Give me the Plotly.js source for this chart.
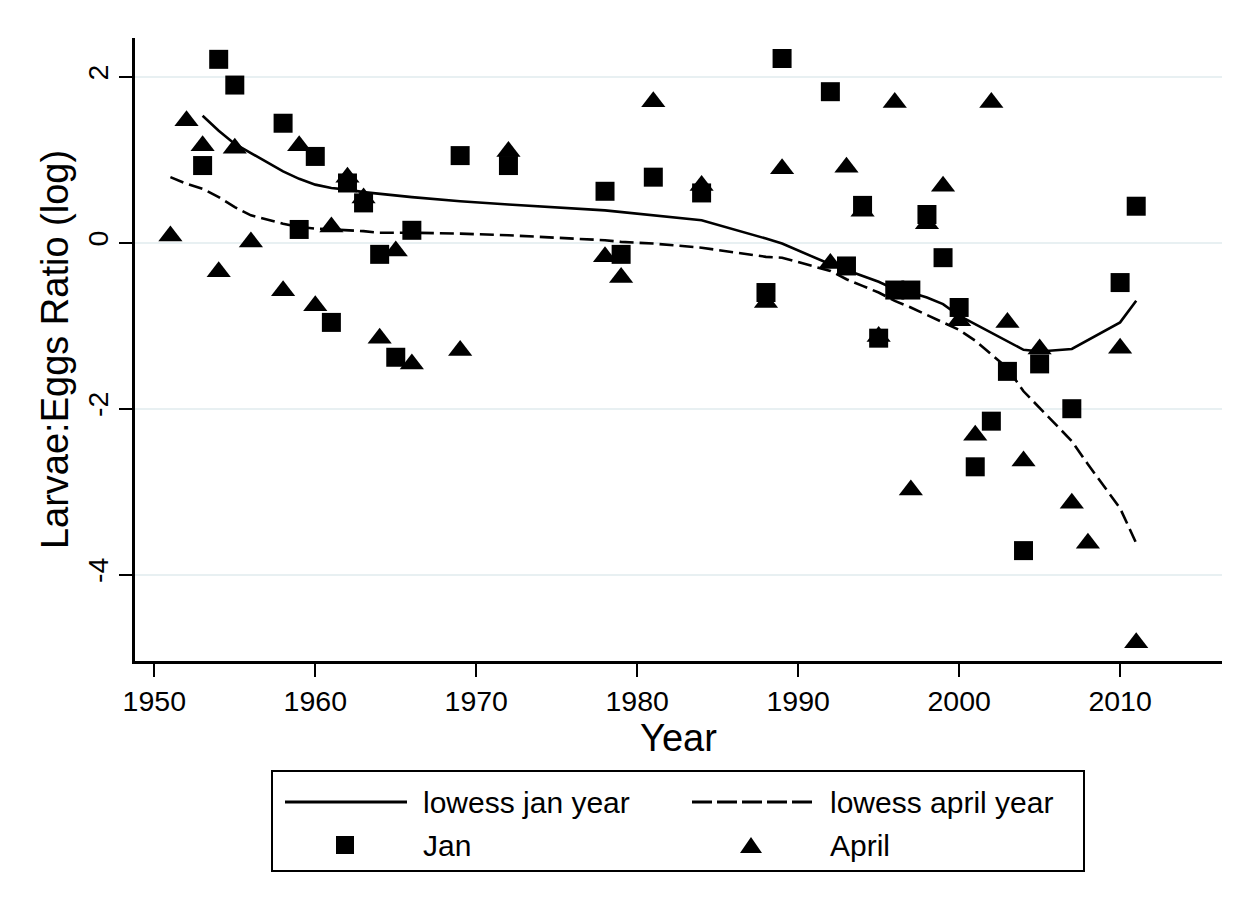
<!DOCTYPE html>
<html>
<head>
<meta charset="utf-8">
<script src="https://cdn.plot.ly/plotly-3.0.1.min.js"></script>
<style>
  html, body { margin: 0; padding: 0; background: #ffffff; }
  #chart { width: 1253px; height: 911px; }
</style>
</head>
<body>
<div id="chart"></div>
<script>
// January survey: larvae-to-eggs ratio (log scale) by year
const janYears = [1953, 1954, 1955, 1958, 1959, 1960, 1961, 1962, 1963, 1964, 1965, 1966,
  1969, 1972, 1978, 1979, 1981, 1984, 1988, 1989, 1992, 1993, 1994, 1995, 1996, 1997,
  1998, 1999, 2000, 2001, 2002, 2003, 2004, 2005, 2007, 2010, 2011];
const janRatio = [0.93, 2.21, 1.90, 1.44, 0.16, 1.04, -0.96, 0.72, 0.48, -0.14, -1.38, 0.15,
  1.05, 0.93, 0.62, -0.14, 0.79, 0.60, -0.60, 2.22, 1.82, -0.28, 0.45, -1.15, -0.57, -0.57,
  0.34, -0.18, -0.78, -2.70, -2.15, -1.55, -3.71, -1.46, -2.00, -0.48, 0.44];
// Lowess smooth of the January series, evaluated at each January year
const janLowess = [1.53, 1.35, 1.19, 0.86, 0.77, 0.70, 0.66, 0.64, 0.61, 0.59, 0.57, 0.55,
  0.50, 0.46, 0.39, 0.37, 0.33, 0.27, 0.05, -0.01, -0.26, -0.33, -0.40, -0.47, -0.56, -0.60,
  -0.66, -0.74, -0.88, -0.98, -1.09, -1.18, -1.29, -1.31, -1.28, -0.96, -0.70];

// April survey
const aprYears = [1951, 1952, 1953, 1954, 1955, 1956, 1958, 1959, 1960, 1961, 1962, 1963,
  1964, 1965, 1966, 1969, 1972, 1978, 1979, 1981, 1984, 1988, 1989, 1992, 1993, 1994, 1995,
  1996, 1997, 1998, 1999, 2000, 2001, 2002, 2003, 2004, 2005, 2007, 2008, 2010, 2011];
const aprRatio = [0.08, 1.47, 1.17, -0.35, 1.14, 0.01, -0.58, 1.17, -0.76, 0.19, 0.79, 0.54,
  -1.15, -0.10, -1.46, -1.30, 1.10, -0.17, -0.42, 1.70, 0.69, -0.72, 0.89, -0.25, 0.91, 0.38,
  -1.13, 1.69, -2.98, 0.23, 0.68, -0.94, -2.32, 1.69, -0.96, -2.63, -1.28, -3.14, -3.62,
  -1.27, -4.82];
// Lowess smooth of the April series, evaluated at each April year
const aprLowess = [0.79, 0.71, 0.65, 0.55, 0.43, 0.33, 0.23, 0.19, 0.17, 0.16, 0.15, 0.14,
  0.12, 0.12, 0.12, 0.11, 0.09, 0.03, 0.01, -0.01, -0.06, -0.17, -0.18, -0.34, -0.44, -0.52,
  -0.60, -0.70, -0.78, -0.87, -0.96, -1.05, -1.18, -1.34, -1.51, -1.79, -1.99, -2.39, -2.67,
  -3.20, -3.62];

const xTicks = [1950, 1960, 1970, 1980, 1990, 2000, 2010];
const yTicks = [-4, -2, 0, 2];
const yTickText = ['-4', '-2', '0', '2'];

const legendLabels = ['lowess jan year', 'lowess april year', 'Jan', 'April'];

// Plot frame in page pixels
const FIG_W = 1253, FIG_H = 911;
const L = 135, R = 1222, T = 38, B = 661;
const W = R - L, H = B - T;
const px = x => (x - L) / W;
const py = y => (B - y) / H;

const FONT = '"Liberation Sans", Arial, Helvetica, sans-serif';
const INK = '#000000';

const traces = [
  {
    x: janYears, y: janLowess, type: 'scatter', mode: 'lines',
    line: { color: INK, width: 2.6, shape: 'linear' },
    name: legendLabels[0], showlegend: false, hoverinfo: 'skip'
  },
  {
    x: aprYears, y: aprLowess, type: 'scatter', mode: 'lines',
    line: { color: INK, width: 2.6, dash: '14px,6px' },
    name: legendLabels[1], showlegend: false, hoverinfo: 'skip'
  },
  {
    x: janYears, y: janRatio, type: 'scatter', mode: 'markers',
    marker: { symbol: 'square', size: 19, color: INK, line: { width: 0 } },
    name: legendLabels[2], showlegend: false
  },
  {
    x: aprYears, y: aprRatio, type: 'scatter', mode: 'markers',
    marker: { symbol: 'triangle-up', size: 21, color: INK, line: { width: 0 } },
    name: legendLabels[3], showlegend: false
  }
];

// Legend box drawn in page-pixel positions
const rowA = 802, rowB = 845;
const colA = 285, colB = 692;
const shapes = [
  { type: 'rect', xref: 'paper', yref: 'paper',
    x0: px(272), x1: px(1084), y0: py(871), y1: py(771),
    line: { color: INK, width: 2 }, fillcolor: 'rgba(0,0,0,0)' },
  { type: 'line', xref: 'paper', yref: 'paper',
    x0: px(colA), x1: px(colA + 122), y0: py(rowA), y1: py(rowA),
    line: { color: INK, width: 3 } },
  { type: 'line', xref: 'paper', yref: 'paper',
    x0: px(colB), x1: px(colB + 120), y0: py(rowA), y1: py(rowA),
    line: { color: INK, width: 3, dash: '20px,5px' } },
  { type: 'rect', xref: 'paper', yref: 'paper',
    x0: px(336), x1: px(354), y0: py(854), y1: py(836),
    line: { width: 0 }, fillcolor: INK },
  { type: 'path', xref: 'paper', yref: 'paper',
    path: `M ${px(740)},${py(853)} L ${px(762)},${py(853)} L ${px(751)},${py(837)} Z`,
    line: { width: 0 }, fillcolor: INK }
];

const legendText = (text, x, y) => ({
  text: text, xref: 'paper', yref: 'paper', x: px(x), y: py(y),
  xanchor: 'left', yanchor: 'middle', showarrow: false,
  font: { family: FONT, size: 30, color: INK }
});

const annotations = [
  legendText(legendLabels[0], 421, rowA),
  legendText(legendLabels[1], 828, rowA),
  legendText(legendLabels[2], 421, rowB),
  legendText(legendLabels[3], 828, rowB)
];

const layout = {
  width: FIG_W, height: FIG_H,
  margin: { l: L, r: FIG_W - R, t: T, b: FIG_H - B, pad: 0 },
  paper_bgcolor: '#ffffff', plot_bgcolor: '#ffffff',
  showlegend: false,
  font: { family: FONT, color: INK },
  xaxis: {
    range: [1948.80, 2016.33], tickvals: xTicks, ticktext: xTicks.map(String),
    showgrid: false, zeroline: false,
    showline: true, linecolor: INK, linewidth: 3,
    ticks: 'outside', ticklen: 13, tickwidth: 2, tickcolor: INK,
    tickfont: { family: FONT, size: 28.5, color: INK },
    title: { text: 'Year', font: { family: FONT, size: 38, color: INK }, standoff: 0 },
    automargin: false, fixedrange: true
  },
  yaxis: {
    range: [-5.04, 2.467], tickvals: yTicks, ticktext: yTickText, tickangle: -90,
    showgrid: true, gridcolor: '#e8f0f2', gridwidth: 2, zeroline: false,
    showline: true, linecolor: INK, linewidth: 3,
    ticks: 'outside', ticklen: 13, tickwidth: 2, tickcolor: INK,
    tickfont: { family: FONT, size: 28.5, color: INK },
    title: { text: 'Larvae:Eggs Ratio (log)', font: { family: FONT, size: 38, color: INK }, standoff: 2 },
    automargin: false, fixedrange: true
  },
  shapes: shapes,
  annotations: annotations
};

Plotly.newPlot('chart', traces, layout, { staticPlot: true, displayModeBar: false });
</script>
</body>
</html>
